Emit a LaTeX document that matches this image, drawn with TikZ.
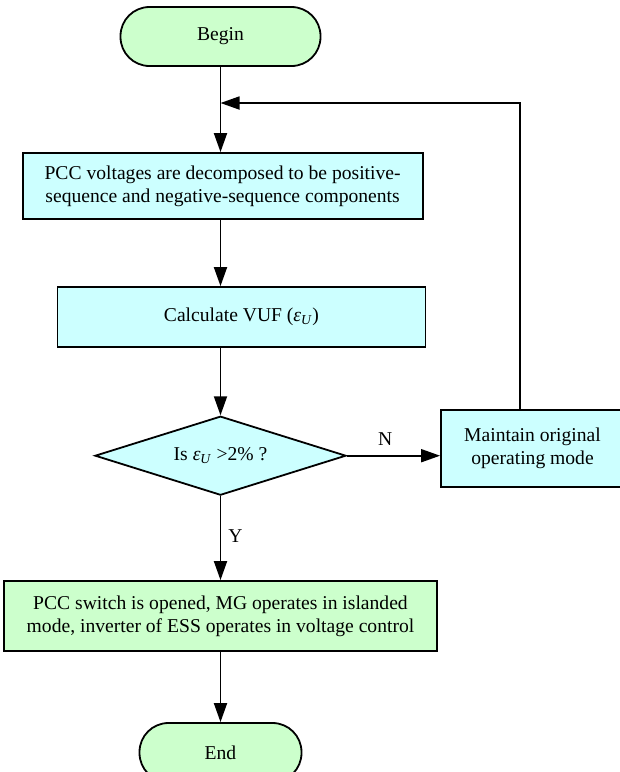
\documentclass[tikz,border=0pt]{standalone}
\usepackage{fontspec}
\setmainfont{Liberation Serif}
\usetikzlibrary{shapes.geometric,arrows.meta}
\definecolor{pgreen}{HTML}{CCFFCC}
\definecolor{pcyan}{HTML}{CCFFFF}
\tikzset{
  flow/.style={draw, line width=1.8pt, font=\fontsize{19.6}{23}\selectfont, align=center, inner sep=0pt},
  term/.style={flow, fill=pgreen, rounded corners=29pt},
  procc/.style={flow, fill=pcyan},
  procg/.style={flow, fill=pgreen},
  dec/.style={flow, fill=pcyan, diamond, aspect=3.18},
  conn/.style={line width=1.8pt, -{Triangle[length=19pt,width=13pt]}},
  lbl/.style={font=\fontsize{19.6}{23}\selectfont, inner sep=0pt}
}
\begin{document}
\begin{tikzpicture}[x=1pt,y=-1pt]
\useasboundingbox (0,0) rectangle (620,772);
\node[term, minimum width=200pt, minimum height=59pt] (begin) at (220.5,36.5) {Begin};
\node[procc, minimum width=400pt, minimum height=66pt] (b1) at (222.6,186) {PCC voltages are decomposed to be positive-\\sequence and negative-sequence components};
\node[procc, minimum width=368pt, minimum height=60pt] (b2) at (241.4,317) {Calculate VUF (\textit{ε}\textsubscript{\textit{U}})};
\node[dec, minimum width=251pt, minimum height=79pt] (dec) at (220.5,455.7) {Is \textit{ε}\textsubscript{\textit{U}} >2\% ?};
\node[procc, minimum width=183pt, minimum height=77pt] (keep) at (532.5,448.7) {Maintain original\\operating mode};
\node[procg, minimum width=433pt, minimum height=70pt] (b3) at (220.5,616) {PCC switch is opened, MG operates in islanded\\mode, inverter of ESS operates in voltage control};
\node[term, minimum width=162pt, minimum height=59pt] (end) at (220.5,752.5) {End};
\coordinate (lp) at (520,103);
\draw[conn] (begin.south) -- (begin.south |- b1.north);
\draw[conn] (keep.north -| lp) -- (lp) -- (begin.south |- lp);
\draw[conn] (begin.south |- b1.south) -- (begin.south |- b2.north);
\draw[conn] (begin.south |- b2.south) -- (dec.north);
\draw[conn] (dec.east) -- (dec.east -| keep.west) node[lbl, pos=0.41, above=9pt] (nl) {N};
\draw[conn] (dec.south) -- (b3.north) node[lbl, pos=0.47, right=7pt] (yl) {Y};
\draw[conn] (b3.south) -- (end.north);
\end{tikzpicture}
\end{document}
